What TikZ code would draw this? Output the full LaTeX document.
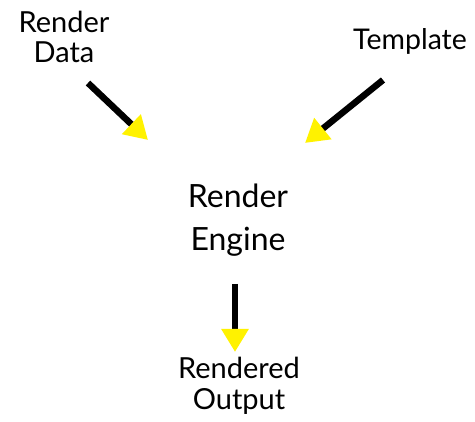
\documentclass[tikz,border=0pt]{standalone}
\usepackage{fontspec}
\setmainfont{Lato}
\usetikzlibrary{arrows.meta}

\tikzset{
  txt/.style={align=center, inner sep=0pt},
  feed/.style={line width=6.5pt,
    -{Triangle[color=yellow, length=23pt 0 0, width=26pt 0 0]}},
}

\begin{document}
\begin{tikzpicture}[x=1pt, y=-1pt]
  \useasboundingbox (0,0) rectangle (475,422);

  % inputs
  \node[txt, font=\fontsize{29}{30}\selectfont] (data) at (64,37) {Render\\Data};
  \node[txt, font=\fontsize{28.5}{30}\selectfont, anchor=base] (template) at (410,50) {Template};

  % engine and output
  \node[txt, font=\fontsize{32}{43}\selectfont] (engine) at (238,220) {Render\\Engine};
  \node[txt, font=\fontsize{29}{31}\selectfont] (output) at (239,386) {Rendered\\Output};

  % arrow ends
  \coordinate (dataout) at (88,83);
  \coordinate (datain) at (148,140);
  \coordinate (templateout) at (383,80);
  \coordinate (templatein) at (305,143);
  \coordinate (engineout) at (235,284);
  \coordinate (outputin) at (235,352);

  \draw[feed] (dataout) -- (datain);
  \draw[feed] (templateout) -- (templatein);
  \draw[feed] (engineout) -- (outputin);
\end{tikzpicture}
\end{document}
